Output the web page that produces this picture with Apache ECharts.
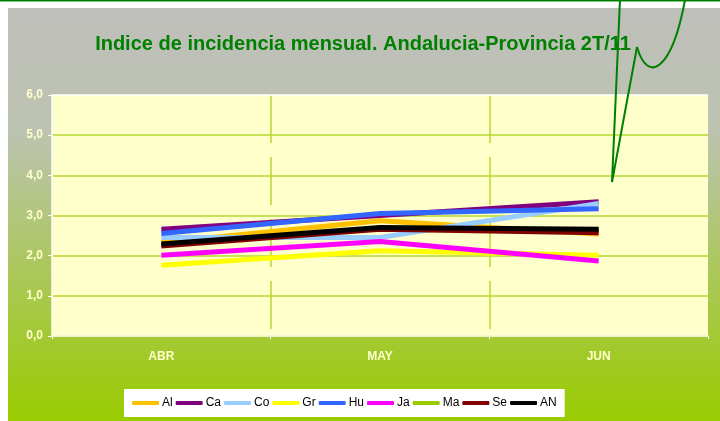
<!DOCTYPE html>
<html>
<head>
<meta charset="utf-8">
<script src="https://cdn.jsdelivr.net/npm/echarts@6/dist/echarts.min.js"></script>
<style>
html,body{margin:0;padding:0;background:#fff;}
#chart{width:720px;height:421px;}
</style>
</head>
<body>
<div id="chart"></div>
<script>
// meses
var meses = ['ABR', 'MAY', 'JUN'];
// provincias
var Al = [2.33, 2.87, 2.54];
var Ca = [2.66, 3.00, 3.34];
var Co = [2.45, 2.45, 3.30];
var Gr = [1.76, 2.12, 2.01];
var Hu = [2.55, 3.05, 3.17];
var Ja = [2.01, 2.35, 1.87];
var Ma = [2.27, 2.68, 2.62];
var Se = [2.24, 2.66, 2.57];
var AN = [2.29, 2.70, 2.66];
var yTicks = [0, 1, 2, 3, 4, 5, 6];

var nombres = ['Al', 'Ca', 'Co', 'Gr', 'Hu', 'Ja', 'Ma', 'Se', 'AN'];
var datos = [Al, Ca, Co, Gr, Hu, Ja, Ma, Se, AN];
var colores = ['#ffc000', '#800080', '#99ccff', '#ffff00', '#3366ff', '#ff00ff', '#99cc00', '#800000', '#000000'];

var series = [];
for (var i = 0; i < nombres.length; i++) {
    series.push({
        name: nombres[i],
        type: 'line',
        data: datos[i],
        symbol: 'none',
        lineStyle: {width: 5, color: colores[i]},
        itemStyle: {color: colores[i]}
    });
}

var chart = echarts.init(document.getElementById('chart'));
var option = {
    animation: false,
    graphic: [
        {type: 'rect', shape: {x: 8, y: 8, width: 712, height: 413}, z: -10,
         style: {fill: new echarts.graphic.LinearGradient(0, 0, 0, 1, [
             {offset: 0, color: '#bfbfbb'},
             {offset: 0.3, color: '#bcc3b0'},
             {offset: 1, color: '#99cc00'}
         ])}},
        {type: 'line', shape: {x1: 0, y1: 0.5, x2: 720, y2: 0.5}, z: 50,
         style: {stroke: '#008000', lineWidth: 2}},
        /* flecha dibujada a mano */
        {type: 'polyline', z: 50,
         shape: {points: [[620, 0], [612, 182], [637, 47]]},
         style: {stroke: '#008000', lineWidth: 2, fill: null}},
        {type: 'bezierCurve', z: 50,
         shape: {x1: 637, y1: 47, x2: 685, y2: 0, cpx1: 648, cpy1: 85, cpx2: 672, cpy2: 70},
         style: {stroke: '#008000', lineWidth: 2, fill: null}},
        /* borde superior blanco del area */
        {type: 'line', shape: {x1: 52, y1: 95, x2: 708, y2: 95}, z: 5,
         style: {stroke: '#ffffff', lineWidth: 1.5}}
    ],
    title: {
        text: 'Indice de incidencia mensual. Andalucia-Provincia 2T/11',
        left: 358, top: 29, textAlign: 'center',
        textStyle: {color: '#008000', fontSize: 20, fontWeight: 'bold',
            fontFamily: '"Liberation Sans", Arial, sans-serif'}
    },
    legend: {
        data: nombres,
        left: 124, top: 389,
        backgroundColor: '#ffffff',
        padding: [8, 8, 8, 8],
        itemWidth: 27, itemHeight: 4, itemGap: 3,
        icon: 'roundRect',
        textStyle: {color: '#000', fontSize: 12, padding: [0, 0, 0, -2],
            fontFamily: '"Liberation Sans", Arial, sans-serif'}
    },
    grid: {left: 52, right: 12, top: 95, bottom: 85, backgroundColor: '#ffffcc', show: true, borderWidth: 0},
    xAxis: {
        type: 'category',
        data: meses,
        boundaryGap: true,
        axisLine: {lineStyle: {color: '#ffffff', width: 1.5}},
        axisTick: {show: true, lineStyle: {color: '#ffffff'}, length: 3},
        axisLabel: {color: '#ffffcc', fontWeight: 'bold', fontSize: 12, margin: 15, fontFamily: '"Liberation Sans", Arial, sans-serif'},
        splitLine: {show: true, showMinLine: false, showMaxLine: false,
            lineStyle: {color: '#b5d92c', width: 1.5, type: [48, 14]}}
    },
    yAxis: {
        type: 'value',
        min: yTicks[0], max: yTicks[yTicks.length - 1], interval: 1,
        axisLine: {show: true, lineStyle: {color: '#ffffff', width: 1.5}},
        axisTick: {show: true, lineStyle: {color: '#ffffff'}, length: 4},
        axisLabel: {color: '#ffffcc', fontWeight: 'bold', fontSize: 12, margin: 9,
            fontFamily: '"Liberation Sans", Arial, sans-serif',
            formatter: function (v) { return v.toFixed(1).replace('.', ','); }},
        splitLine: {show: true, showMaxLine: false, lineStyle: {color: '#b5d92c', width: 1.5}}
    },
    series: series
};
chart.setOption(option);
</script>
</body>
</html>
